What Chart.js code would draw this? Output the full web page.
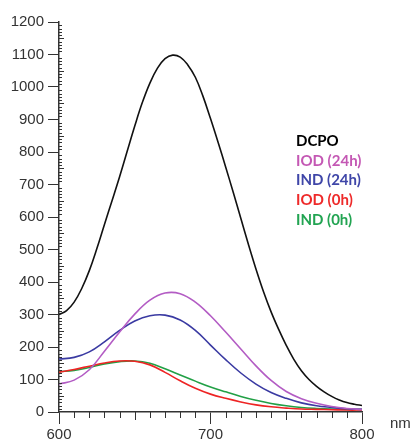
<!DOCTYPE html>
<html>
<head>
<meta charset="utf-8">
<script src="https://cdn.jsdelivr.net/npm/chart.js@4"></script>
<style>
  html, body { margin: 0; padding: 0; background: #fff; }
  #grafico { display: block; }
</style>
</head>
<body>
<canvas id="grafico" width="412" height="444"></canvas>
<script>
// longitudes de onda (nm)
const wl5 = [600, 605, 610, 615, 620, 625, 630, 635, 640, 645, 650, 655, 660, 665, 670, 675, 680, 685, 690, 695,
             700, 705, 710, 715, 720, 725, 730, 735, 740, 745, 750, 755, 760, 765, 770, 775, 780, 785, 790, 795, 800];
const wl10 = [600, 610, 620, 630, 640, 650, 660, 670, 680, 690, 700, 710, 720, 730, 740, 750, 760, 770, 780, 790, 800];

// series
const dcpo = [300, 312, 338, 380, 435, 503, 577, 650, 724, 802, 880, 952, 1012, 1058, 1087, 1098, 1092, 1068, 1030, 972,
              903, 830, 754, 676, 596, 516, 440, 370, 308, 254, 205, 162, 127, 100, 79, 62, 48, 37, 29, 24, 20];
const iod24 = [86, 98, 130, 187, 246, 301, 344, 366, 364, 338, 296, 246, 194, 142, 97, 63, 41, 27, 17, 11, 8];
const ind24 = [163, 168, 185, 216, 251, 280, 296, 298, 283, 251, 206, 161, 120, 86, 60, 42, 28, 19, 14, 10, 8];
const iod0 = [122, 131, 141, 151, 157, 156, 145, 122, 96, 73, 55, 42, 31, 22, 16, 12, 9, 8, 7, 6, 6];
const ind0 = [124, 128, 137, 148, 155, 157, 150, 133, 114, 95, 77, 62, 48, 36, 26, 19, 14, 11, 9, 8, 8];

const etiquetas = ['DCPO', 'IOD (24h)', 'IND (24h)', 'IOD (0h)', 'IND (0h)'];
const coloresLinea = ['#111111', '#b35cc4', '#3a3aa2', '#ee2424', '#22a046'];
const coloresTexto = ['#000000', '#c458b4', '#3f46a8', '#ee2a2a', '#22a452'];

const yMax = 1200, yPaso = 100, yMenor = 10;
const xMin = 600, xMax = 800, xPaso = 100, xMenor = 10;

function puntos(xs, ys) {
    return xs.map((x, i) => ({ x: x, y: ys[i] }));
}

//Ticks menores de ambos ejes
const ticksMenores = {
    id: 'ticksMenores',
    afterDraw(chart) {
        const { ctx, scales: { x, y } } = chart;
        ctx.save();
        ctx.strokeStyle = '#333';
        ctx.lineWidth = 1;
        ctx.beginPath();
        for (let v = 0; v <= yMax; v += yMenor) {
            if (v % yPaso === 0) continue;
            const py = Math.round(y.getPixelForValue(v)) + 0.5;
            const len = v % 50 === 0 ? 5 : 3;
            ctx.moveTo(x.left, py);
            ctx.lineTo(x.left + len, py);
        }
        for (let v = xMin; v <= xMax; v += xMenor) {
            if (v % xPaso === 0) continue;
            const px = Math.round(x.getPixelForValue(v)) + 0.5;
            const len = v % 50 === 0 ? 8 : 6;
            ctx.moveTo(px, y.bottom);
            ctx.lineTo(px, y.bottom + len);
        }
        ctx.stroke();

        // unidad del eje x
        ctx.fillStyle = '#333';
        ctx.font = '15px "Liberation Sans", Arial, sans-serif';
        ctx.textAlign = 'left';
        ctx.textBaseline = 'middle';
        ctx.fillText('nm', x.right + 28, y.bottom + 12);
        ctx.restore();
    }
};

//Leyenda en texto de color
const leyendaTexto = {
    id: 'leyendaTexto',
    afterDraw(chart) {
        const ctx = chart.ctx;
        ctx.save();
        ctx.font = 'bold 15px Lato, "Open Sans", sans-serif';
        ctx.textAlign = 'left';
        ctx.textBaseline = 'middle';
        chart.data.datasets.forEach((ds, i) => {
            ctx.fillStyle = coloresTexto[i];
            ctx.fillText(ds.label, 296, 141 + i * 19.7);
        });
        ctx.restore();
    }
};

const series = [dcpo, iod24, ind24, iod0, ind0];
const ctx = document.getElementById('grafico').getContext('2d');
new Chart(ctx, {
    type: 'line',
    data: {
        datasets: series.map((s, i) => ({
            label: etiquetas[i],
            data: puntos(i === 0 ? wl5 : wl10, s),
            borderColor: coloresLinea[i],
            backgroundColor: coloresLinea[i],
            borderWidth: 1.6,
            pointRadius: 0,
            fill: false,
            tension: 0.4
        }))
    },
    options: {
        responsive: false,
        animation: false,
        devicePixelRatio: 1,
        layout: { padding: { top: 22, right: 50, left: 0, bottom: 0 } },
        plugins: {
            legend: { display: false },
            tooltip: { enabled: false }
        },
        scales: {
            x: {
                type: 'linear',
                min: xMin,
                max: xMax,
                afterFit: (scale) => { scale.height = 32; },
                border: { display: true, color: '#333', width: 1.5 },
                grid: { drawOnChartArea: false, tickLength: 12, color: '#333', tickColor: '#333' },
                ticks: {
                    stepSize: xPaso,
                    padding: 2,
                    color: '#333',
                    font: { family: '"Liberation Sans", Arial, sans-serif', size: 15 },
                    maxRotation: 0,
                    callback: (v) => String(v)
                }
            },
            y: {
                min: 0,
                max: yMax,
                afterFit: (scale) => { scale.width = 59; },
                border: { display: true, color: '#333', width: 1.5 },
                grid: { drawOnChartArea: false, tickLength: 11, color: '#333', tickColor: '#333' },
                ticks: {
                    stepSize: yPaso,
                    padding: 4,
                    color: '#333',
                    font: { family: '"Liberation Sans", Arial, sans-serif', size: 15 },
                    callback: (v) => String(v)
                }
            }
        }
    },
    plugins: [ticksMenores, leyendaTexto]
});
</script>
</body>
</html>
